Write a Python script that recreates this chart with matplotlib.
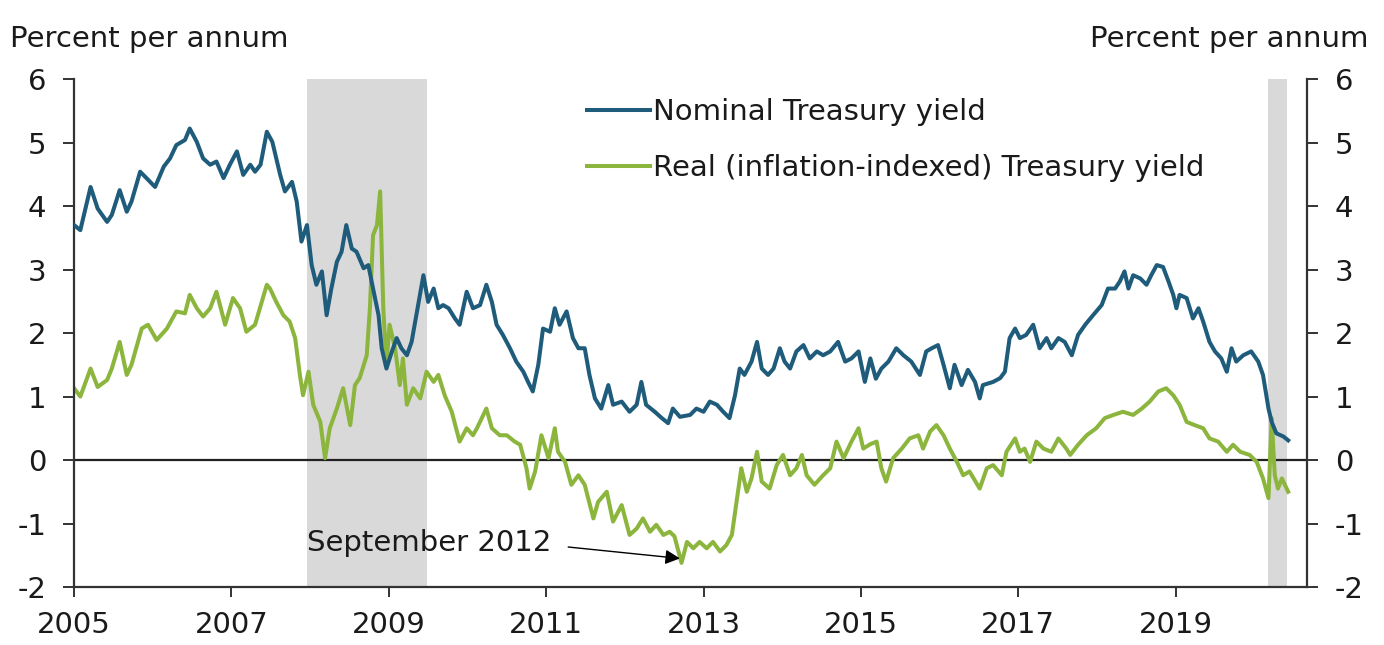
import matplotlib
matplotlib.use('Agg')
import matplotlib.pyplot as plt

plt.rcParams['font.family'] = ['DejaVu Sans']

# ---- datos (fecha en años decimales, % anual) ----
nominal_t = [2005.00, 2005.08, 2005.21, 2005.30, 2005.42, 2005.48, 2005.58, 2005.67, 2005.73, 2005.84,
             2005.92, 2006.03, 2006.14, 2006.22, 2006.30, 2006.41, 2006.47, 2006.56, 2006.64, 2006.73,
             2006.81, 2006.90, 2006.98, 2007.07, 2007.15, 2007.24, 2007.30, 2007.37, 2007.45, 2007.52,
             2007.62, 2007.68, 2007.77, 2007.83, 2007.89, 2007.96, 2008.02, 2008.08, 2008.15, 2008.21,
             2008.27, 2008.34, 2008.40, 2008.46, 2008.53, 2008.59, 2008.68, 2008.74, 2008.80, 2008.87,
             2008.91, 2008.97, 2009.04, 2009.10, 2009.16, 2009.23, 2009.29, 2009.35, 2009.44, 2009.50,
             2009.57, 2009.63, 2009.69, 2009.76, 2009.84, 2009.90, 2009.99, 2010.07, 2010.16, 2010.24,
             2010.31, 2010.37, 2010.45, 2010.54, 2010.62, 2010.71, 2010.77, 2010.83, 2010.90, 2010.96,
             2011.05, 2011.11, 2011.17, 2011.26, 2011.34, 2011.41, 2011.49, 2011.55, 2011.62, 2011.70,
             2011.79, 2011.85, 2011.96, 2012.06, 2012.15, 2012.21, 2012.27, 2012.38, 2012.47, 2012.55,
             2012.61, 2012.70, 2012.83, 2012.91, 2013.00, 2013.08, 2013.17, 2013.25, 2013.33, 2013.40,
             2013.46, 2013.52, 2013.61, 2013.68, 2013.74, 2013.82, 2013.89, 2013.97, 2014.03, 2014.10,
             2014.18, 2014.27, 2014.35, 2014.44, 2014.52, 2014.61, 2014.71, 2014.80, 2014.88, 2014.97,
             2015.05, 2015.12, 2015.19, 2015.26, 2015.35, 2015.45, 2015.54, 2015.64, 2015.75, 2015.83,
             2015.90, 2015.98, 2016.05, 2016.13, 2016.19, 2016.28, 2016.36, 2016.45, 2016.51, 2016.55,
             2016.68, 2016.77, 2016.83, 2016.89, 2016.96, 2017.02, 2017.10, 2017.19, 2017.27, 2017.36,
             2017.42, 2017.51, 2017.59, 2017.68, 2017.76, 2017.85, 2017.95, 2018.06, 2018.14, 2018.23,
             2018.29, 2018.35, 2018.40, 2018.46, 2018.55, 2018.63, 2018.69, 2018.76, 2018.84, 2018.91,
             2018.97, 2019.01, 2019.05, 2019.14, 2019.22, 2019.29, 2019.35, 2019.43, 2019.50, 2019.58,
             2019.65, 2019.71, 2019.77, 2019.86, 2019.96, 2020.05, 2020.11, 2020.18, 2020.22, 2020.28,
             2020.37, 2020.43]
nominal = [3.70, 3.62, 4.30, 3.96, 3.75, 3.86, 4.25, 3.91, 4.07, 4.54,
           4.44, 4.30, 4.62, 4.75, 4.96, 5.04, 5.22, 5.01, 4.75, 4.65,
           4.70, 4.44, 4.65, 4.86, 4.49, 4.65, 4.54, 4.65, 5.17, 5.01,
           4.49, 4.23, 4.38, 4.07, 3.44, 3.70, 3.07, 2.76, 2.97, 2.28,
           2.70, 3.12, 3.28, 3.70, 3.33, 3.28, 3.02, 3.07, 2.70, 2.28,
           1.76, 1.44, 1.71, 1.92, 1.76, 1.65, 1.86, 2.28, 2.91, 2.49,
           2.70, 2.39, 2.44, 2.39, 2.23, 2.13, 2.65, 2.39, 2.44, 2.76,
           2.49, 2.13, 1.97, 1.76, 1.55, 1.39, 1.23, 1.08, 1.50, 2.07,
           2.02, 2.39, 2.13, 2.34, 1.92, 1.76, 1.76, 1.34, 0.97, 0.81,
           1.18, 0.87, 0.92, 0.76, 0.87, 1.23, 0.87, 0.76, 0.66, 0.58,
           0.81, 0.68, 0.71, 0.81, 0.76, 0.92, 0.87, 0.76, 0.66, 1.02,
           1.44, 1.34, 1.55, 1.86, 1.44, 1.34, 1.44, 1.76, 1.55, 1.44,
           1.71, 1.81, 1.60, 1.71, 1.65, 1.71, 1.86, 1.55, 1.60, 1.71,
           1.23, 1.60, 1.28, 1.44, 1.55, 1.76, 1.65, 1.55, 1.34, 1.71,
           1.76, 1.81, 1.50, 1.13, 1.50, 1.18, 1.42, 1.23, 0.97, 1.18,
           1.23, 1.29, 1.39, 1.92, 2.07, 1.92, 1.97, 2.13, 1.76, 1.92,
           1.76, 1.92, 1.86, 1.65, 1.97, 2.13, 2.28, 2.44, 2.70, 2.70,
           2.81, 2.97, 2.70, 2.91, 2.86, 2.76, 2.91, 3.07, 3.04, 2.81,
           2.60, 2.39, 2.60, 2.55, 2.23, 2.39, 2.18, 1.86, 1.71, 1.60,
           1.39, 1.76, 1.55, 1.65, 1.71, 1.55, 1.34, 0.81, 0.60, 0.42,
           0.37, 0.31]

real_t = [2005.00, 2005.08, 2005.21, 2005.30, 2005.42, 2005.48, 2005.58, 2005.67, 2005.73, 2005.86,
          2005.94, 2006.05, 2006.18, 2006.30, 2006.41, 2006.47, 2006.56, 2006.64, 2006.73, 2006.81,
          2006.92, 2007.02, 2007.11, 2007.19, 2007.30, 2007.45, 2007.49, 2007.57, 2007.66, 2007.74,
          2007.81, 2007.87, 2007.91, 2007.98, 2008.04, 2008.13, 2008.19, 2008.25, 2008.34, 2008.42,
          2008.51, 2008.57, 2008.63, 2008.72, 2008.76, 2008.80, 2008.85, 2008.89, 2008.93, 2008.97,
          2009.01, 2009.08, 2009.14, 2009.18, 2009.23, 2009.31, 2009.40, 2009.48, 2009.57, 2009.63,
          2009.71, 2009.80, 2009.90, 2009.99, 2010.07, 2010.12, 2010.24, 2010.31, 2010.41, 2010.50,
          2010.60, 2010.67, 2010.75, 2010.79, 2010.86, 2010.94, 2011.03, 2011.11, 2011.15, 2011.24,
          2011.32, 2011.41, 2011.49, 2011.60, 2011.66, 2011.77, 2011.85, 2011.96, 2012.06, 2012.15,
          2012.23, 2012.32, 2012.40, 2012.49, 2012.57, 2012.63, 2012.72, 2012.79, 2012.87, 2012.95,
          2013.04, 2013.12, 2013.21, 2013.29, 2013.36, 2013.42, 2013.48, 2013.55, 2013.61, 2013.68,
          2013.74, 2013.84, 2013.93, 2014.01, 2014.10, 2014.18, 2014.25, 2014.31, 2014.41, 2014.52,
          2014.61, 2014.69, 2014.78, 2014.88, 2014.97, 2015.03, 2015.12, 2015.20, 2015.26, 2015.32,
          2015.41, 2015.52, 2015.62, 2015.73, 2015.79, 2015.88, 2015.96, 2016.05, 2016.13, 2016.22,
          2016.30, 2016.38, 2016.51, 2016.60, 2016.68, 2016.79, 2016.85, 2016.96, 2017.02, 2017.08,
          2017.15, 2017.23, 2017.32, 2017.42, 2017.51, 2017.61, 2017.66, 2017.76, 2017.87, 2017.99,
          2018.10, 2018.21, 2018.33, 2018.46, 2018.57, 2018.67, 2018.78, 2018.88, 2018.97, 2019.05,
          2019.14, 2019.24, 2019.35, 2019.43, 2019.54, 2019.65, 2019.73, 2019.82, 2019.94, 2020.03,
          2020.11, 2020.18, 2020.22, 2020.26, 2020.30, 2020.35, 2020.43]
real = [1.13, 1.00, 1.44, 1.15, 1.26, 1.44, 1.86, 1.34, 1.50, 2.07,
        2.13, 1.89, 2.07, 2.34, 2.31, 2.60, 2.39, 2.26, 2.39, 2.65,
        2.13, 2.55, 2.39, 2.02, 2.13, 2.76, 2.70, 2.49, 2.28, 2.18,
        1.92, 1.34, 1.02, 1.39, 0.87, 0.60, 0.03, 0.50, 0.81, 1.13,
        0.55, 1.18, 1.29, 1.65, 2.39, 3.54, 3.70, 4.23, 2.39, 1.50,
        2.13, 1.76, 1.18, 1.60, 0.87, 1.13, 0.97, 1.39, 1.23, 1.34,
        1.02, 0.76, 0.29, 0.50, 0.39, 0.50, 0.81, 0.50, 0.39, 0.39,
        0.29, 0.24, -0.13, -0.45, -0.18, 0.39, 0.03, 0.50, 0.13, -0.03,
        -0.39, -0.24, -0.39, -0.92, -0.66, -0.50, -0.97, -0.71, -1.18, -1.08,
        -0.92, -1.13, -1.02, -1.18, -1.13, -1.20, -1.62, -1.29, -1.39, -1.29,
        -1.39, -1.29, -1.44, -1.34, -1.18, -0.66, -0.13, -0.50, -0.29, 0.13,
        -0.34, -0.45, -0.08, 0.08, -0.24, -0.13, 0.08, -0.24, -0.39, -0.24,
        -0.13, 0.29, 0.03, 0.29, 0.50, 0.18, 0.25, 0.29, -0.13, -0.34,
        0.03, 0.18, 0.34, 0.39, 0.18, 0.45, 0.55, 0.39, 0.18, -0.03,
        -0.24, -0.18, -0.45, -0.13, -0.08, -0.24, 0.13, 0.34, 0.13, 0.18,
        -0.03, 0.29, 0.18, 0.13, 0.34, 0.18, 0.08, 0.24, 0.39, 0.50,
        0.66, 0.71, 0.76, 0.71, 0.81, 0.92, 1.08, 1.13, 1.02, 0.87,
        0.60, 0.55, 0.50, 0.34, 0.29, 0.13, 0.24, 0.13, 0.08, -0.03,
        -0.29, -0.60, 0.66, -0.24, -0.45, -0.29, -0.50]

# recesiones (NBER)
recesiones = [(2007.96, 2009.48), (2020.18, 2020.41)]

anios_ticks = [2005, 2007, 2009, 2011, 2013, 2015, 2017, 2019]
y_ticks = [-2, -1, 0, 1, 2, 3, 4, 5, 6]

azul = '#1f5c7b'
verde = '#8cb53d'
gris = '#d9d9d9'
texto = '#1a1a1a'
tam = 21

fig = plt.figure(figsize=(13.84, 6.45), dpi=100)
ax = fig.add_axes([0.0535, 0.0899, 0.8909, 0.7876])

for ini, fin in recesiones:
    ax.axvspan(ini, fin, color=gris, lw=0, zorder=0)

ax.axhline(0, color='#222222', lw=1.6, zorder=1)
ax.plot(nominal_t, nominal, color=azul, lw=2.9, label='Nominal Treasury yield', zorder=3)
ax.plot(real_t, real, color=verde, lw=2.9, label='Real (inflation-indexed) Treasury yield', zorder=2)

ax.set_xlim(2005.0, 2020.67)
ax.set_ylim(-2, 6)
ax.set_xticks(anios_ticks)
ax.set_xticklabels([str(a) for a in anios_ticks])
ax.set_yticks(y_ticks)
ax.set_yticklabels([str(v) for v in y_ticks])

ax.spines['top'].set_visible(False)
for lado in ['left', 'right', 'bottom']:
    ax.spines[lado].set_color('#333333')
    ax.spines[lado].set_linewidth(1.6)

ax.yaxis.set_ticks_position('both')
ax.tick_params(axis='y', which='both', direction='out', length=8, width=1.4, color='#333333',
               labelleft=True, labelright=True, labelsize=tam, pad=12, labelcolor=texto)
ax.tick_params(axis='x', direction='out', length=7, width=1.4, color='#333333',
               labelsize=tam, pad=10, labelcolor=texto)

fig.text(0.007, 0.94, 'Percent per annum', fontsize=tam, color=texto, ha='left', va='center')
fig.text(0.989, 0.94, 'Percent per annum', fontsize=tam, color=texto, ha='right', va='center')

ax.legend(loc='upper left', bbox_to_anchor=(0.416, 0.962), frameon=False, fontsize=tam,
          handlelength=2.15, handletextpad=0.1, labelspacing=0.95, borderpad=0, borderaxespad=0,
          labelcolor=texto)

# anotacion
ax.text(2007.96, -1.31, 'September 2012', fontsize=tam, color=texto, ha='left', va='center')
ax.annotate('', xy=(2012.70, -1.55), xytext=(2011.28, -1.37),
            arrowprops=dict(arrowstyle='-|>', color='black', lw=1.0, mutation_scale=22,
                            shrinkA=0, shrinkB=0))

fig.savefig('out.png', dpi=100)
